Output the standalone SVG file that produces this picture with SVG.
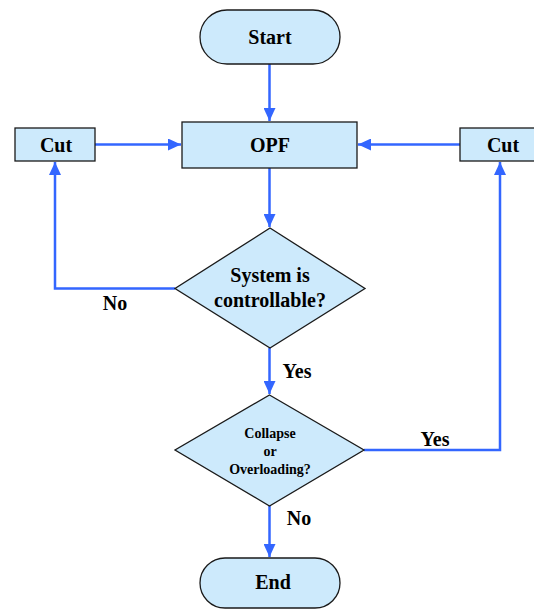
<svg xmlns="http://www.w3.org/2000/svg" width="534" height="610" viewBox="0 0 534 610">
<defs>
<style>
.node{fill:#cdeafc;stroke:#1a1a1a;stroke-width:1.3}
.t{font-weight:bold;fill:#000;text-anchor:middle}
.c{fill:none;stroke:#3366ff;stroke-width:2.5}
</style>
<marker id="ah" markerUnits="userSpaceOnUse" markerWidth="14" markerHeight="12" refX="13" refY="6" orient="auto">
<path d="M0,0 L13,6 L0,12 Z" fill="#3366ff"/>
</marker>
</defs>
<rect width="534" height="610" fill="#fff"/>
<g font-family="'Liberation Serif', 'Times New Roman', Tinos, 'DejaVu Serif', serif">
<g id="connectors">
<path class="c" d="M269.5,64 V121" marker-end="url(#ah)"/>
<path class="c" d="M95,144.5 H181" marker-end="url(#ah)"/>
<path class="c" d="M460,144.5 H358" marker-end="url(#ah)"/>
<path class="c" d="M269.5,168 V227" marker-end="url(#ah)"/>
<path class="c" d="M175,288.5 H55 V162" marker-end="url(#ah)"/>
<path class="c" d="M269.5,348 V394" marker-end="url(#ah)"/>
<path class="c" d="M364,450 H500 V162" marker-end="url(#ah)"/>
<path class="c" d="M269.5,506 V557" marker-end="url(#ah)"/>
<text class="t" x="115" y="310" font-size="20">No</text>
<text class="t" x="297" y="378" font-size="20">Yes</text>
<text class="t" x="435" y="446" font-size="20">Yes</text>
<text class="t" x="299" y="525" font-size="20">No</text>
</g>
<g id="start">
<rect class="node" x="200" y="10" width="140" height="54" rx="27"/>
<text class="t" x="270" y="44" font-size="20">Start</text>
</g>
<g id="opf">
<rect class="node" x="182" y="122" width="175" height="46"/>
<text class="t" x="270" y="152" font-size="20">OPF</text>
</g>
<g id="cut-left">
<rect class="node" x="15" y="128" width="80" height="33"/>
<text class="t" x="56" y="152" font-size="20">Cut</text>
</g>
<g id="cut-right">
<rect class="node" x="460" y="128" width="80" height="33"/>
<text class="t" x="503" y="152" font-size="20">Cut</text>
</g>
<g id="controllable">
<polygon class="node" points="270,228 365,288.5 270,348 175,288.5"/>
<text class="t" x="270" y="282" font-size="20">System is</text>
<text class="t" x="270" y="307" font-size="20">controllable?</text>
</g>
<g id="collapse">
<polygon class="node" points="269.5,395 364,450 269.5,506 175,450"/>
<text class="t" x="270" y="438" font-size="14">Collapse</text>
<text class="t" x="270" y="456" font-size="14">or</text>
<text class="t" x="270" y="474" font-size="14">Overloading?</text>
</g>
<g id="end">
<rect class="node" x="200" y="558" width="140" height="50" rx="25"/>
<text class="t" x="273" y="589" font-size="20">End</text>
</g>
</g>
</svg>
